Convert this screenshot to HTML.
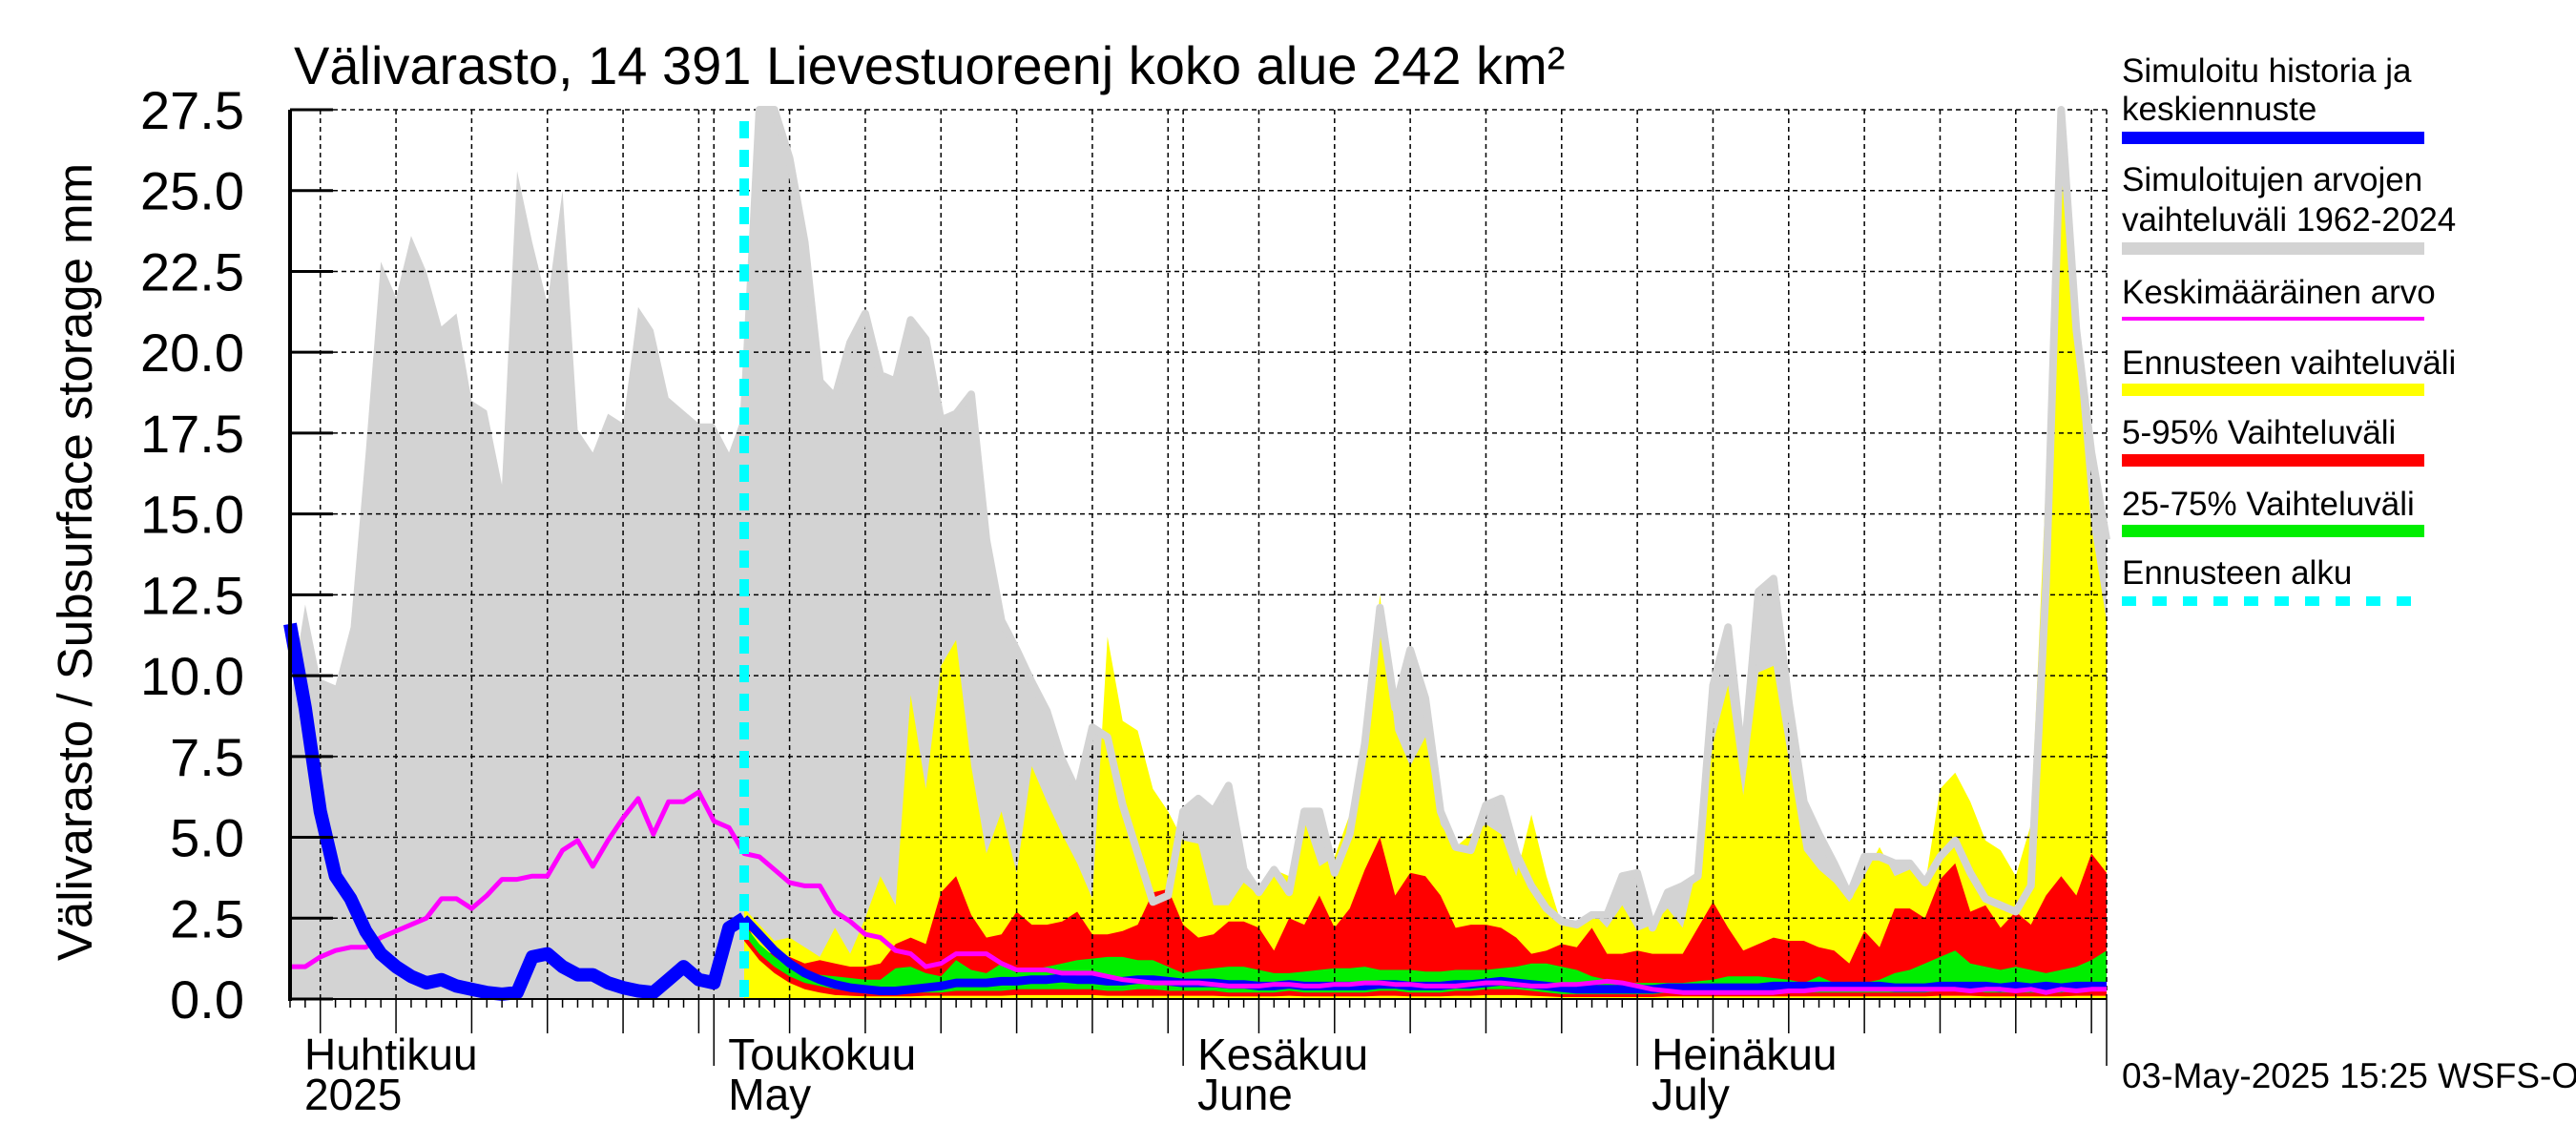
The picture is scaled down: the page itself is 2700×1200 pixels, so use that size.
<!DOCTYPE html>
<html><head><meta charset="utf-8"><style>
html,body{margin:0;padding:0;background:#fff;}
svg{display:block;font-family:"Liberation Sans",sans-serif;}
</style></head><body>
<svg id="chart" width="2700" height="1200" viewBox="0 0 2700 1200" xmlns="http://www.w3.org/2000/svg">
<rect x="0" y="0" width="2700" height="1200" fill="#fff"/>
<g id="fills"></g>
<g id="grid"></g>
<g id="lines"></g>
<g id="axes"></g>
<text x="308" y="88" font-size="56">Välivarasto, 14 391 Lievestuoreenj koko alue 242 km²</text>
<text transform="translate(96,589) rotate(-90)" text-anchor="middle" font-size="51">Välivarasto / Subsurface storage  mm</text>
<g font-size="35">
<text x="2224" y="86">Simuloitu historia ja</text>
<text x="2224" y="126">keskiennuste</text>
<rect x="2224" y="138" width="317" height="13" fill="#0000ff"/>
<text x="2224" y="200">Simuloitujen arvojen</text>
<text x="2224" y="242">vaihteluväli 1962-2024</text>
<rect x="2224" y="254" width="317" height="13" fill="#d3d3d3"/>
<text x="2224" y="318">Keskimääräinen arvo</text>
<rect x="2224" y="332" width="317" height="4" fill="#ff00ff"/>
<text x="2224" y="392">Ennusteen vaihteluväli</text>
<rect x="2224" y="402" width="317" height="13" fill="#ffff00"/>
<text x="2224" y="465">5-95% Vaihteluväli</text>
<rect x="2224" y="476" width="317" height="13" fill="#ff0000"/>
<text x="2224" y="540">25-75% Vaihteluväli</text>
<rect x="2224" y="550" width="317" height="13" fill="#00ee00"/>
<text x="2224" y="612">Ennusteen alku</text>
<line x1="2224" y1="630" x2="2541" y2="630" stroke="#00ffff" stroke-width="10" stroke-dasharray="15 17"/>
</g>
<text x="2224" y="1140" font-size="37">03-May-2025 15:25 WSFS-O</text>
</svg>
<script>
const histMax=[9.2,12.2,9.9,9.7,11.5,16.9,22.8,21.7,23.6,22.5,20.8,21.2,18.5,18.2,15.9,25.6,23.4,21.5,25.0,17.6,16.9,18.1,17.8,21.4,20.7,18.6,18.2,17.8,17.8,16.9,18.2,27.5,27.5,26.0,23.4,19.1,18.6,20.3,21.2,19.3,19.1,21.0,20.4,17.9,18.1,18.7,14.2,11.7,10.8,9.8,8.9,7.4,6.4,8.4,8.1,6.0,4.5,3.0,3.2,5.8,6.2,5.8,6.6,4.0,3.3,4.0,3.3,5.8,5.8,3.9,5.1,7.9,12.1,9.0,10.8,9.3,5.8,4.7,4.6,6.0,6.2,4.5,3.5,2.8,2.4,2.3,2.6,2.6,3.8,3.9,2.2,3.3,3.5,3.8,9.7,11.5,7.2,12.6,13.0,9.2,6.1,5.1,4.2,3.2,4.4,4.4,4.2,4.2,3.6,4.4,4.9,3.9,3.1,2.9,2.7,3.5,12.8,27.5,20.7,16.9,14.2];
const meanVals=[1.0,1.0,1.3,1.5,1.6,1.6,1.9,2.1,2.3,2.5,3.1,3.1,2.8,3.2,3.7,3.7,3.8,3.8,4.6,4.9,4.1,4.9,5.6,6.2,5.1,6.1,6.1,6.4,5.5,5.3,4.5,4.4,4.0,3.6,3.5,3.5,2.7,2.4,2.0,1.9,1.5,1.4,1.0,1.1,1.4,1.4,1.4,1.1,0.9,0.9,0.9,0.8,0.8,0.8,0.7,0.6,0.55,0.5,0.5,0.5,0.5,0.45,0.4,0.4,0.4,0.45,0.45,0.4,0.4,0.45,0.45,0.5,0.5,0.45,0.45,0.4,0.4,0.4,0.45,0.5,0.5,0.45,0.4,0.4,0.45,0.45,0.5,0.55,0.5,0.4,0.3,0.25,0.2,0.2,0.2,0.2,0.2,0.2,0.2,0.25,0.25,0.3,0.3,0.3,0.3,0.3,0.3,0.3,0.3,0.3,0.3,0.25,0.3,0.3,0.25,0.3,0.2,0.3,0.25,0.3,0.3];
const histVals=[11.6,9.0,5.8,3.8,3.1,2.1,1.4,1.0,0.7,0.5,0.6,0.4,0.3,0.2,0.15,0.2,1.3,1.4,1.0,0.75,0.75,0.5,0.35,0.25,0.2,0.6,1.0,0.6,0.5,2.2,2.5];
const fcStart=30;
const fcMax=[2.8,2.3,1.8,1.9,1.6,1.3,2.2,1.4,2.5,3.8,2.9,9.4,6.5,10.3,11.1,7.2,4.5,5.8,3.9,7.2,6.1,5.1,4.2,3.1,11.2,8.6,8.3,6.5,5.8,4.9,4.8,2.9,2.9,3.6,3.2,4.0,3.8,5.5,4.1,4.4,5.7,7.9,12.5,8.3,7.2,8.1,5.4,4.7,5.1,5.4,5.1,3.8,5.7,3.8,2.3,2.2,2.7,2.2,2.9,2.1,2.3,2.8,2.2,4.2,7.9,9.7,6.3,10.1,10.3,7.4,4.6,4.0,3.6,3.0,3.8,4.7,3.8,4.0,3.5,6.5,7.0,6.1,4.9,4.6,3.8,5.4,16.0,26.4,20.0,14.6,11.7];
const fc95=[2.5,1.5,1.4,1.3,1.1,1.2,1.1,1.0,1.0,1.1,1.7,1.9,1.7,3.3,3.8,2.6,1.9,2.0,2.7,2.3,2.3,2.4,2.7,2.0,2.0,2.1,2.3,3.3,3.4,2.3,1.9,2.0,2.4,2.4,2.2,1.5,2.5,2.3,3.2,2.2,2.8,4.0,5.0,3.2,3.9,3.8,3.2,2.2,2.3,2.3,2.2,1.9,1.4,1.5,1.7,1.6,2.2,1.4,1.4,1.5,1.4,1.4,1.4,2.2,3.0,2.2,1.5,1.7,1.9,1.8,1.8,1.6,1.5,1.1,2.1,1.6,2.8,2.8,2.5,3.7,4.2,2.7,2.9,2.2,2.7,2.3,3.2,3.8,3.2,4.5,3.9];
const fc75=[2.3,1.7,1.3,1.0,0.85,0.75,0.7,0.65,0.6,0.6,0.95,1.0,0.8,0.7,1.2,0.9,0.8,1.1,0.9,0.9,1.0,1.1,1.2,1.25,1.3,1.3,1.2,1.2,1.0,0.8,0.9,0.95,1.0,1.0,0.9,0.8,0.8,0.85,0.9,0.95,0.95,1.0,0.9,0.9,0.9,0.85,0.85,0.9,0.9,0.9,0.95,1.0,1.1,1.1,1.0,0.9,0.7,0.6,0.5,0.5,0.5,0.5,0.5,0.55,0.6,0.7,0.7,0.7,0.65,0.6,0.5,0.7,0.5,0.4,0.5,0.6,0.8,0.9,1.1,1.3,1.5,1.1,1.0,0.9,1.0,0.9,0.8,0.9,1.0,1.2,1.5];
const fcMed=[2.5,2.0,1.5,1.1,0.8,0.6,0.45,0.35,0.3,0.25,0.25,0.3,0.35,0.4,0.5,0.5,0.5,0.55,0.55,0.6,0.6,0.65,0.6,0.6,0.55,0.55,0.6,0.6,0.55,0.5,0.5,0.5,0.45,0.45,0.4,0.4,0.45,0.4,0.4,0.4,0.4,0.4,0.45,0.45,0.4,0.4,0.4,0.45,0.45,0.5,0.55,0.5,0.45,0.4,0.35,0.3,0.3,0.3,0.3,0.3,0.3,0.35,0.35,0.35,0.35,0.35,0.35,0.35,0.4,0.4,0.4,0.4,0.4,0.4,0.4,0.4,0.35,0.35,0.35,0.4,0.4,0.4,0.4,0.35,0.4,0.35,0.4,0.35,0.4,0.4,0.4];
const fc25=[2.0,1.4,1.0,0.7,0.5,0.4,0.3,0.25,0.2,0.2,0.2,0.2,0.2,0.2,0.25,0.25,0.25,0.25,0.3,0.3,0.3,0.3,0.3,0.3,0.25,0.25,0.3,0.3,0.25,0.25,0.25,0.25,0.2,0.2,0.2,0.2,0.25,0.2,0.2,0.2,0.2,0.2,0.25,0.25,0.2,0.2,0.2,0.25,0.25,0.3,0.3,0.3,0.25,0.2,0.15,0.15,0.15,0.15,0.15,0.15,0.15,0.2,0.2,0.2,0.2,0.2,0.2,0.2,0.2,0.2,0.2,0.2,0.2,0.2,0.2,0.2,0.2,0.2,0.2,0.25,0.25,0.25,0.2,0.2,0.2,0.2,0.2,0.2,0.25,0.25,0.25];
const fc5=[1.8,1.2,0.8,0.5,0.3,0.2,0.12,0.1,0.08,0.08,0.08,0.08,0.1,0.1,0.1,0.1,0.1,0.1,0.12,0.12,0.12,0.12,0.12,0.12,0.1,0.1,0.1,0.1,0.1,0.1,0.1,0.1,0.08,0.08,0.08,0.08,0.1,0.08,0.08,0.08,0.08,0.08,0.1,0.1,0.08,0.08,0.08,0.1,0.1,0.12,0.12,0.12,0.1,0.08,0.06,0.06,0.06,0.06,0.06,0.06,0.06,0.08,0.08,0.08,0.08,0.08,0.08,0.08,0.08,0.08,0.08,0.08,0.08,0.08,0.08,0.08,0.08,0.08,0.08,0.1,0.1,0.1,0.08,0.08,0.08,0.08,0.08,0.08,0.1,0.1,0.1];
const yTicks=["0.0","2.5","5.0","7.5","10.0","12.5","15.0","17.5","20.0","22.5","25.0","27.5"];
const monthLabels=[["Huhtikuu","2025",0],["Toukokuu","May",28],["Kesäkuu","June",59],["Heinäkuu","July",89]];
const monthStarts=[28,59,89,120];
const gridDays=[2,7,12,17,22,27,33,38,43,48,53,58,64,69,74,79,84,94,99,104,109,114,119];

const X0=304,X1=2208,Y0=1047,Y1=115,NDAYS=120,YMAX=27.5;
const NS="http://www.w3.org/2000/svg";
function xs(d){return X0+d*(X1-X0)/NDAYS;}
function ys(v){return Y0-v*(Y0-Y1)/YMAX;}
function mk(tag,attrs,parent){const e=document.createElementNS(NS,tag);for(const k in attrs)e.setAttribute(k,attrs[k]);parent.appendChild(e);return e;}
function pts(arr,off){return arr.map((v,i)=>xs(i+off).toFixed(1)+","+ys(v).toFixed(1));}
function band(lo,hi,off){return pts(hi,off).concat(pts(lo,off).reverse()).join(" ");}
const fills=document.getElementById('fills'),grid=document.getElementById('grid'),lines=document.getElementById('lines'),axes=document.getElementById('axes');
const zerosAll=histMax.map(()=>0);
let e;
e=mk('polygon',{points:band(zerosAll,histMax,0),fill:'#d3d3d3'},fills);


const zerosFc=fcMax.map(()=>0);
e=mk('polygon',{points:band(zerosFc,fcMax,fcStart),fill:'#ffff00'},fills);


e=mk('polygon',{points:band(fc5,fc95,fcStart),fill:'#ff0000'},fills);


e=mk('polygon',{points:band(fc25,fc75,fcStart),fill:'#00ee00'},fills);


for(let i=1;i<yTicks.length;i++){const v=i*2.5;
e=mk('line',{x1:X0,x2:X1,y1:ys(v),y2:ys(v),stroke:'#000','stroke-width':1.5,'stroke-dasharray':'5 4'},grid);

}
gridDays.concat(monthStarts).forEach(d=>{
e=mk('line',{x1:xs(d),x2:xs(d),y1:Y1,y2:Y0,stroke:'#000','stroke-width':1.5,'stroke-dasharray':'5 4'},grid);

});
e=mk('polyline',{points:pts(histMax.slice(fcStart),fcStart).join(" "),fill:'none',stroke:'#d3d3d3','stroke-width':8,'stroke-linejoin':'round'},lines);


e=mk('polyline',{points:pts(fcMed,fcStart).join(" "),fill:'none',stroke:'#0000ff','stroke-width':9,'stroke-linejoin':'round'},lines);


e=mk('polyline',{points:pts(meanVals,0).join(" "),fill:'none',stroke:'#ff00ff','stroke-width':5,'stroke-linejoin':'round'},lines);


e=mk('polyline',{points:pts(histVals,0).join(" "),fill:'none',stroke:'#0000ff','stroke-width':14,'stroke-linejoin':'round'},lines);


e=mk('line',{x1:xs(fcStart),x2:xs(fcStart),y1:Y1+12,y2:Y0,stroke:'#00ffff','stroke-width':10,'stroke-dasharray':'18 12'},lines);


e=mk('line',{x1:X0,x2:X0,y1:Y1,y2:Y0+2,stroke:'#000','stroke-width':4},axes);


e=mk('line',{x1:X0,x2:X1,y1:Y0,y2:Y0,stroke:'#000','stroke-width':2},axes);


yTicks.forEach((t,i)=>{const y=ys(i*2.5);
e=mk('line',{x1:X0,x2:X0+45,y1:y,y2:y,stroke:'#000','stroke-width':3},axes);


e=mk('text',{x:256,y:y+20,'text-anchor':'end','font-size':56},axes);e.textContent=t;

});
for(let d=0;d<=NDAYS;d++){
let len=9; if(gridDays.includes(d))len=36; if(monthStarts.includes(d))len=70;
e=mk('line',{x1:xs(d),x2:xs(d),y1:Y0,y2:Y0+len,stroke:'#000','stroke-width':1.5},axes);

}
monthLabels.forEach(m=>{const x=Math.max(X0+2,xs(m[2])+15);
e=mk('text',{x:x,y:1121,'font-size':46},axes);e.textContent=m[0];


e=mk('text',{x:x,y:1163,'font-size':46},axes);e.textContent=m[1];

});
</script>
</body></html>
